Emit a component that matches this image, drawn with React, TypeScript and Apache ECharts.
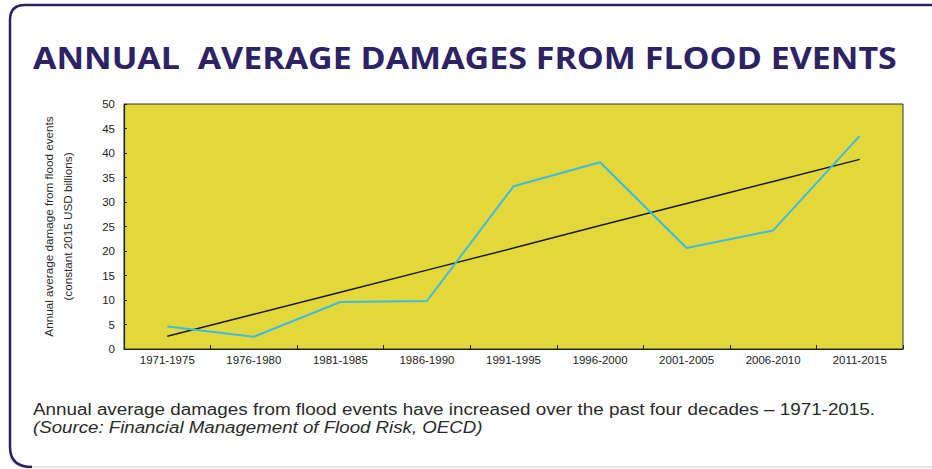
import React, { useEffect, useRef } from "react";
import * as echarts from "echarts";

const categories = [
  "1971-1975",
  "1976-1980",
  "1981-1985",
  "1986-1990",
  "1991-1995",
  "1996-2000",
  "2001-2005",
  "2006-2010",
  "2011-2015",
];
const damages = [4.6, 2.5, 9.6, 9.8, 33.2, 38.1, 20.6, 24.2, 43.5];
const trend = [2.6, 7.1, 11.6, 16.1, 20.6, 25.2, 29.7, 34.2, 38.7];
const yMin = 0;
const yMax = 50;
const yInterval = 5;

const titleText = "ANNUAL  AVERAGE DAMAGES FROM FLOOD EVENTS";
const yAxisName = "Annual average damage from flood events\n(constant 2015 USD billions)";
const captionLine1 =
  "Annual average damages from flood events have increased over the past four decades \u2013 1971-2015.";
const captionLine2 = "(Source: Financial Management of Flood Risk, OECD)";

const framePath = "M 32 467 Q 10 467 10 447 L 10 20 Q 10 5 25 5 L 940 5";
echarts.graphic.registerShape("frameEdge", (echarts.graphic as any).extendPath(framePath, {}));

function measure(text: string, font: string): number {
  try {
    const c = document.createElement("canvas");
    const ctx = c.getContext("2d");
    if (!ctx) return 0;
    ctx.font = font;
    return ctx.measureText(text).width;
  } catch (e) {
    return 0;
  }
}

function fitScale(text: string, font: string, target: number): number {
  const w = measure(text, font);
  return w > 0 ? target / w : 1;
}

export default function App() {
  const ref = useRef<HTMLDivElement>(null);
  useEffect(() => {
    if (!ref.current) return;
    const chart = echarts.init(ref.current, undefined, { renderer: "svg" });
    const titleFont = "bold 29.5px 'Open Sans'";
    const cap1Font = "17.3px 'Liberation Sans'";
    const cap2Font = "italic 17.3px 'Liberation Sans'";
    chart.setOption({
      animation: false,
      backgroundColor: "#ffffff",
      grid: {
        left: 124,
        right: 29,
        top: 104,
        bottom: 120,
        show: true,
        backgroundColor: "#E3D83B",
        borderColor: "#333333",
        borderWidth: 1,
      },
      graphic: [
        {
          type: "rect",
          z: -10,
          shape: { x: 10, y: 5, width: 940, height: 462, r: 14 },
          style: { fill: "#ffffff", stroke: "#dcdcdc", lineWidth: 1.5 },
        },
        {
          type: "frameEdge",
          x: 0,
          y: 0,
          z: -9,
          style: { fill: "none", stroke: "#2B2065", lineWidth: 2.5 },
        },
        {
          type: "text",
          x: 33,
          y: 57,
          scaleX: fitScale(titleText, titleFont, 864),
          style: {
            text: titleText,
            fill: "#2D2263",
            font: titleFont,
            verticalAlign: "middle",
          },
        },
        {
          type: "text",
          x: 33,
          y: 409.5,
          scaleX: fitScale(captionLine1, cap1Font, 842),
          style: {
            text: captionLine1,
            fill: "#2a2a2a",
            font: cap1Font,
            verticalAlign: "middle",
          },
        },
        {
          type: "text",
          x: 33,
          y: 427,
          scaleX: fitScale(captionLine2, cap2Font, 449),
          style: {
            text: captionLine2,
            fill: "#2a2a2a",
            font: cap2Font,
            verticalAlign: "middle",
          },
        },
      ],
      xAxis: {
        type: "category",
        data: categories,
        boundaryGap: true,
        axisLine: { show: true, lineStyle: { color: "#222222", width: 1.2 } },
        axisTick: { show: true, inside: true, length: 4, lineStyle: { color: "#222222" } },
        axisLabel: {
          color: "#222222",
          fontSize: 11.5,
          fontFamily: "'Liberation Sans', Arial, sans-serif",
          margin: 5,
          interval: 0,
        },
        splitLine: { show: false },
      },
      yAxis: {
        type: "value",
        min: yMin,
        max: yMax,
        interval: yInterval,
        name: yAxisName,
        nameLocation: "middle",
        nameRotate: 90,
        nameGap: 47,
        nameTextStyle: {
          color: "#2a2a2a",
          fontSize: 11.7,
          lineHeight: 19,
          fontFamily: "'Liberation Sans', Arial, sans-serif",
        },
        axisLine: { show: true, lineStyle: { color: "#222222", width: 1.2 } },
        axisTick: { show: true, inside: true, length: 3, lineStyle: { color: "#222222" } },
        axisLabel: {
          color: "#222222",
          fontSize: 11.5,
          fontFamily: "'Liberation Sans', Arial, sans-serif",
          margin: 9,
        },
        splitLine: { show: false },
      },
      series: [
        {
          name: "Annual average damage",
          type: "line",
          data: damages,
          symbol: "none",
          lineStyle: { color: "#3CBBE2", width: 2 },
          z: 3,
        },
        {
          name: "Trend",
          type: "line",
          data: trend,
          symbol: "none",
          lineStyle: { color: "#1a1a1a", width: 1.5 },
          z: 2,
        },
      ],
    });
    return () => chart.dispose();
  }, []);
  return (
    <div
      ref={ref}
      style={{ position: "fixed", left: 0, top: 0, width: 932, height: 469 }}
    />
  );
}
